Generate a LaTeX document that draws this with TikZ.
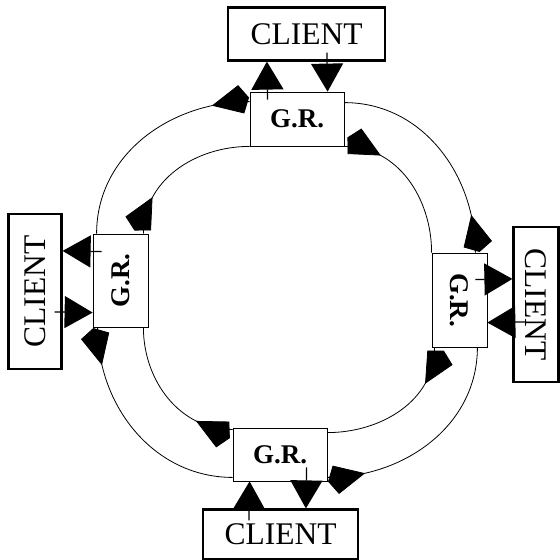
\documentclass[tikz,border=0pt]{standalone}
\usepackage{fontspec}
\setmainfont{Liberation Serif}
\usetikzlibrary{arrows.meta,decorations.markings,calc,positioning}

\begin{document}
\begin{tikzpicture}
			[x=1pt,y=1pt,
			relay/.style={draw,line width=0.8pt,fill=white,inner sep=0pt,font=\fontsize{27}{27}\selectfont\bfseries},
			client/.style={draw,line width=2.2pt,inner sep=0pt,font=\fontsize{31.5}{31.5}\selectfont},
			ring/.style={line width=0.8pt,looseness=1,postaction={decorate},
				decoration={markings,mark=at position 38pt with {\arrow{Kite[length=38pt,width=29pt,inset=8pt]}}}},
			link/.style={line width=1.2pt,-{Triangle[length=28pt,width=32pt]}}]

			\useasboundingbox (0,0) rectangle (560,-560);

			\node [relay,minimum width=94pt,minimum height=54pt] (gt) at (297,-119)   {G.R.};
			\node [relay,minimum width=55pt,minimum height=93pt] (gl) at (120.5,-280.5) {\rotatebox{90}{G.R.}};
			\node [relay,minimum width=55pt,minimum height=94pt] (gr) at (459.5,-300) {\rotatebox{-90}{G.R.}};
			\node [relay,minimum width=94pt,minimum height=53pt] (gb) at (280,-454.5) {G.R.};

			\node [client,minimum width=157pt,minimum height=53pt] (ct) [above=30pt of gt, xshift=9.5pt] {CLIENT};
			\node [client,minimum width=53pt,minimum height=155pt] (cl) [left=30pt of gl, yshift=-11pt] {\rotatebox{90}{CLIENT}};
			\node [client,minimum width=45pt,minimum height=155pt] (cr) [right=25pt of gr, yshift=-4.5pt] {\rotatebox{-90}{CLIENT}};
			\node [client,minimum width=155pt,minimum height=50pt] (cb) [below=27pt of gb, xshift=0.5pt] {CLIENT};

			% outer ring
			\draw [ring] ($(gt.north west)+(0,-10)$) to[out=180,in=90] ($(gl.north west)+(4,0)$);
			\draw [ring] ($(gl.south west)+(5,0)$) to[out=270,in=180] ($(gb.south west)+(0,4)$);
			\draw [ring] ($(gb.south east)+(0,4)$) to[out=0,in=270] ($(gr.south east)+(-10,0)$);
			\draw [ring] ($(gr.north east)+(-12,0)$) to[out=90,in=0] ($(gt.north east)+(0,-11)$);

			% inner ring
			\draw [ring] ($(gl.north east)+(-5,0)$) to[out=90,in=180] (gt.south west);
			\draw [ring] (gt.south east) to[out=0,in=90] (gr.north west);
			\draw [ring] ($(gr.south west)+(3,0)$) to[out=270,in=0] ($(gb.north east)+(0,-5)$);
			\draw [ring] ($(gb.north west)+(0,-2)$) to[out=180,in=270] ($(gl.south east)+(-5,0)$);

			\draw [link] ([xshift=18pt,yshift=-8pt]gt.north west) -- ([xshift=40pt]ct.south west);
			\draw [link] ([xshift=100pt,yshift=9pt]ct.south west) -- ([xshift=78pt]gt.north west);
			\draw [link] ([xshift=9pt,yshift=-18pt]gl.north west) -- ([yshift=-38pt]cl.north east);
			\draw [link] ([xshift=-8pt,yshift=-99pt]cl.north east) -- ([yshift=-79pt]gl.north west);
			\draw [link] ([xshift=-12pt,yshift=-27pt]gr.north east) -- ([yshift=-53pt]cr.north west);
			\draw [link] ([xshift=13pt,yshift=-96pt]cr.north west) -- ([yshift=-70pt]gr.north east);
			\draw [link] ([xshift=47pt,yshift=-12pt]cb.north west) -- ([xshift=17pt]gb.south west);
			\draw [link] ([xshift=74pt,yshift=14pt]gb.south west) -- ([xshift=104pt]cb.north west);
\end{tikzpicture}
\end{document}
